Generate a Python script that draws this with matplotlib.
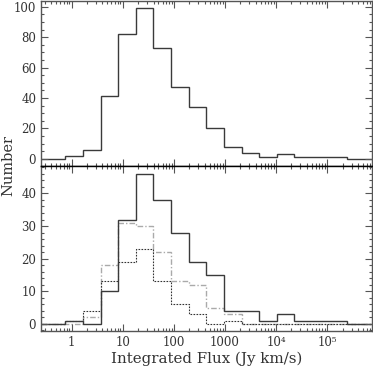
import matplotlib
matplotlib.use("Agg")
import matplotlib.pyplot as plt
from matplotlib.ticker import FixedLocator, MultipleLocator, LogLocator, NullFormatter
import numpy as np

# log10 bin edges (Jy km/s)
log_edges = [-0.815, -0.47, -0.125, 0.22, 0.565, 0.91, 1.255, 1.6, 1.945, 2.29,
             2.635, 2.98, 3.325, 3.67, 4.015, 4.36, 4.705, 5.05, 5.395, 5.74, 6.085]

all_counts = [0, 0, 2, 6, 41, 82, 99, 73, 47, 34, 20, 8, 4, 1, 3, 1, 1, 1, 0, 0]
sub_solid  = [0, 0, 1, 0, 10, 32, 46, 38, 28, 19, 15, 4, 4, 1, 3, 1, 1, 1, 0, 0]
sub_dashed = [0, 0, 0, 2, 18, 31, 30, 22, 13, 12, 5, 3, 0, 0, 0, 0, 0, 0, 0, 0]
sub_dotted = [0, 0, 1, 4, 13, 19, 23, 13, 6, 3, 0, 1, 0, 0, 0, 0, 0, 0, 0, 0]

xtick_vals = [1, 10, 100, 1000, 1e4, 1e5]
xtick_labels = ["1", "10", "100", "1000", "10\u2074", "10\u2075"]

plt.rcParams['font.family'] = ['DejaVu Serif']

edges = 10 ** np.array(log_edges)

fig = plt.figure(figsize=(3.73, 3.73), dpi=100)
ax1 = fig.add_axes([41/373, 1 - 165.7/373, 331/373, 165/373])
ax2 = fig.add_axes([41/373, 1 - 330.7/373, 331/373, 165/373])

frame_col = '#555555'
line_col = '#3a3a3a'
text_col = '#333333'

ax1.stairs(all_counts, edges, baseline=None, color=line_col, lw=1.0)
ax2.stairs(sub_dashed, edges, baseline=None, color='#aaaaaa', lw=1.0,
           linestyle=(0, (4, 1.5, 1, 1.5)))
ax2.stairs(sub_dotted, edges, baseline=None, color='#333333', lw=0.8,
           linestyle=(0, (1.5, 1.2)))
ax2.stairs(sub_solid, edges, baseline=None, color=line_col, lw=1.0)

for ax in (ax1, ax2):
    ax.set_xscale('log')
    ax.set_xlim(10 ** -0.60, 10 ** 5.877)
    ax.xaxis.set_major_locator(FixedLocator(xtick_vals))
    ax.xaxis.set_minor_locator(LogLocator(base=10, subs=np.arange(2, 10), numticks=20))
    ax.xaxis.set_minor_formatter(NullFormatter())
    ax.tick_params(which='both', direction='in', top=True, right=True, colors=frame_col,
                   labelcolor=text_col, labelsize=8.5)
    ax.tick_params(which='major', length=5, width=0.8)
    ax.tick_params(which='minor', length=2.5, width=0.8)
    for s in ax.spines.values():
        s.set_color(frame_col)
        s.set_linewidth(1.0)

ax1.set_ylim(-4.6, 104)
ax1.yaxis.set_major_locator(MultipleLocator(20))
ax1.yaxis.set_minor_locator(MultipleLocator(5))
ax1.tick_params(labelbottom=False)

ax2.set_ylim(-2.1, 48.5)
ax2.yaxis.set_major_locator(MultipleLocator(10))
ax2.yaxis.set_minor_locator(MultipleLocator(2))
ax2.set_xticklabels(xtick_labels)
ax2.spines['top'].set_color('black')
ax1.spines['bottom'].set_color('black')

ax2.set_xlabel('Integrated Flux (Jy km/s)', fontsize=10.8, color=text_col, labelpad=2)
fig.text(0.022, 0.555, 'Number', rotation=90, ha='center', va='center',
         fontsize=10.5, color=text_col)

fig.savefig('out.png', dpi=100)
